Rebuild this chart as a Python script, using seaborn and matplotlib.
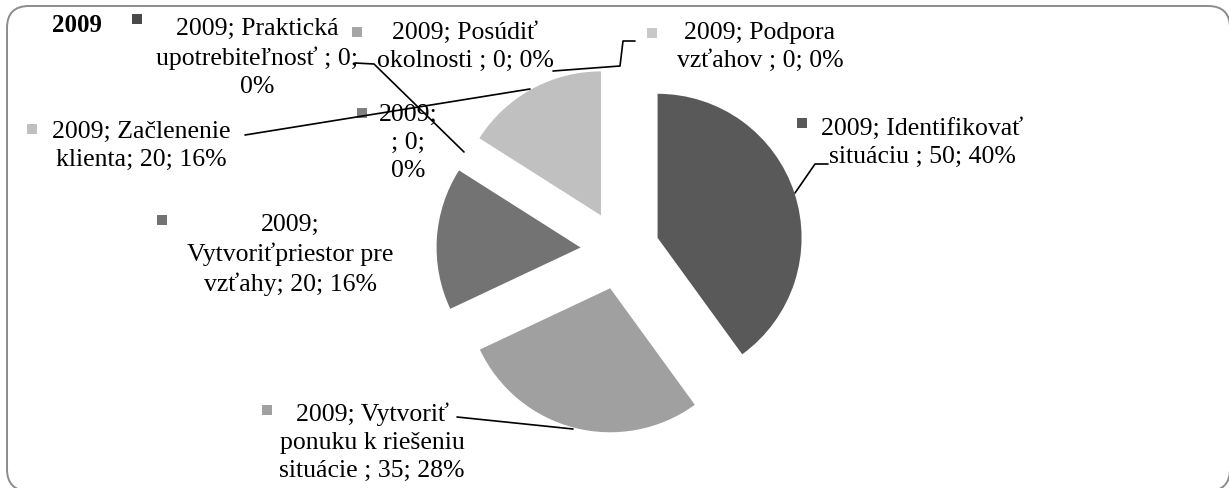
import matplotlib
matplotlib.use("Agg")
import matplotlib.pyplot as plt
from matplotlib.patches import FancyBboxPatch, Rectangle
import seaborn as sns

# ---- data ----
year = "2009"
categories = [
    "Identifikovať\nsituáciu ",
    "Vytvoriť\nponuku k riešeniu\nsituácie ",
    "Vytvoriťpriestor pre\nvzťahy",
    "",
    "Začlenenie\nklienta",
    "Praktická\nupotrebiteľnosť ",
    "Posúdiť\nokolnosti ",
    "Podpora\nvzťahov ",
]
values = [50, 35, 20, 0, 20, 0, 0, 0]
label_texts = [
    "2009; Identifikovať\nsituáciu ; 50; 40%",
    "2009; Vytvoriť\nponuku k riešeniu\nsituácie ; 35; 28%",
    "2009;\nVytvoriťpriestor pre\nvzťahy; 20; 16%",
    "2009;\n; 0;\n0%",
    "2009; Začlenenie\nklienta; 20; 16%",
    "2009; Praktická\nupotrebiteľnosť ; 0;\n0%",
    "2009; Posúdiť\nokolnosti ; 0; 0%",
    "2009; Podpora\nvzťahov ; 0; 0%",
]
colors = ["#595959", "#a0a0a0", "#737373", "#808080", "#c0c0c0",
          "#4a4a4a", "#a6a6a6", "#c8c8c8"]

# ---- layout (pixel coordinates, top-left origin) ----
W, H = 1229, 488
def Y(y):
    return H - y

sns.set_theme(style="white")
plt.rcParams["font.family"] = ["Liberation Serif", "DejaVu Serif"]

fig = plt.figure(figsize=(W / 100, H / 100), dpi=100)
ax = fig.add_axes([0, 0, 1, 1])

palette = sns.color_palette(colors)
ax.pie(values, colors=palette, startangle=90, counterclock=False,
       radius=144, center=(620, Y(250)), explode=[39.5] * len(values),
       wedgeprops=dict(linewidth=0))

ax.set_xlim(0, W)
ax.set_ylim(0, H)
ax.set_aspect("auto")
ax.axis("off")

# frame
frame = FancyBboxPatch((7, Y(491)), 1223, 485,
                       boxstyle="round,pad=0,rounding_size=22",
                       facecolor="none", edgecolor="#8c8c8c", linewidth=1.4,
                       zorder=0)
ax.add_patch(frame)

# title
ax.text(77, Y(26), year, fontsize=18, fontweight="bold", ha="center",
        va="center", color="black")

fs = 18.5
# label centre positions and marker positions
label_pos = [(922, 143), (372, 442), (290, 255), (408, 143),
             (141, 146), (257, 58), (465, 47), (760, 47)]
marker_pos = [(802, 123), (267, 410), (162, 220), (362, 113),
              (32, 129), (137, 19), (357, 32), (652, 33)]
for txt, (lx, ly), (mx, my), c in zip(label_texts, label_pos, marker_pos, colors):
    ax.text(lx, Y(ly), txt, fontsize=fs, ha="center", va="center",
            multialignment="center", linespacing=1.35, color="black", zorder=3)
    ax.add_patch(Rectangle((mx - 5, Y(my) - 5), 10, 10, facecolor=c,
                           edgecolor="none", zorder=3))

# leader lines
leaders = [
    [(828, 164), (815, 164), (795, 193)],
    [(457, 417), (573, 429)],
    [(245, 135), (530, 89)],
    [(355, 63), (374, 64), (464, 152)],
    [(553, 71), (620, 66), (623, 41), (635, 41)],
]
for pts in leaders:
    xs = [p[0] for p in pts]
    ys = [Y(p[1]) for p in pts]
    ax.plot(xs, ys, color="black", linewidth=1.2, zorder=4)

fig.savefig("out.png", dpi=100)
